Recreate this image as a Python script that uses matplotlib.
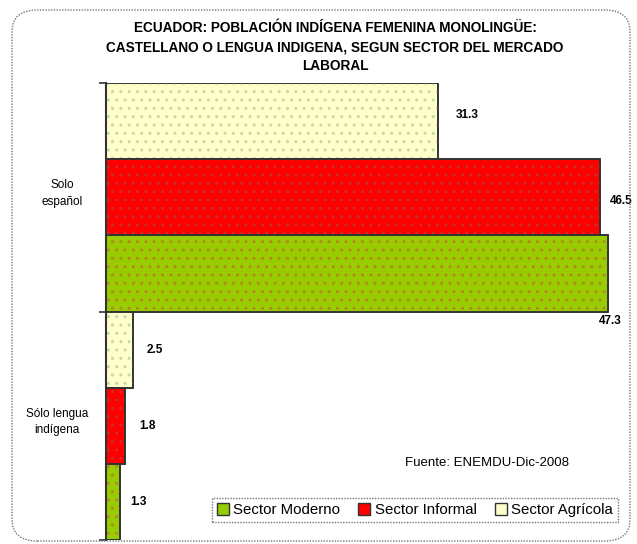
import matplotlib
matplotlib.use("Agg")
import matplotlib.pyplot as plt
from matplotlib.patches import FancyBboxPatch, Patch

plt.rcParams['font.family'] = ['Liberation Sans', 'DejaVu Sans']

categories = ["Solo\nespañol", "Sólo lengua\nindígena"]
series = ["Sector Agrícola", "Sector Informal", "Sector Moderno"]
agricola = [31.3, 2.5]
informal = [46.5, 1.8]
moderno = [47.3, 1.3]
values = {"Sector Agrícola": agricola, "Sector Informal": informal, "Sector Moderno": moderno}
colors = {"Sector Agrícola": "#FFFFCC", "Sector Informal": "#FF0000", "Sector Moderno": "#99CC00"}
dotcolors = {"Sector Agrícola": "#C8D8A0", "Sector Informal": "#C83030", "Sector Moderno": "#B08A20"}
title = "ECUADOR: POBLACIÓN INDÍGENA FEMENINA MONOLINGÜE:\nCASTELLANO O LENGUA INDIGENA, SEGUN SECTOR DEL MERCADO\nLABORAL"
source = "Fuente: ENEMDU-Dic-2008"

W, H = 637, 544
fig = plt.figure(figsize=(W / 100, H / 100), dpi=100)

# rounded border
border = FancyBboxPatch((12 / W, 3 / H), 618 / W, 531 / H,
                        boxstyle="round,pad=0,rounding_size=0.04",
                        transform=fig.transFigure, fill=False,
                        edgecolor="#777777", linewidth=1.0, linestyle=(0, (1, 1)))
fig.patches.append(border)

ax_left, ax_right, ax_top, ax_bot = 106, 630, 83, 540
ax = fig.add_axes([ax_left / W, 1 - ax_bot / H, (ax_right - ax_left) / W, (ax_bot - ax_top) / H])
ax.set_xlim(0, (ax_right - ax_left) / 10.62)
n_groups = len(categories)
n_series = len(series)
ax.set_ylim(0, n_groups * n_series)

for g in range(n_groups):
    for s, name in enumerate(series):
        y = n_groups * n_series - (g * n_series + s) - 0.5
        v = values[name][g]
        ax.barh(y, v, height=1.0, color=colors[name], edgecolor="#333333", linewidth=1.2)
        ax.barh(y, v, height=1.0, color="none", edgecolor=dotcolors[name], linewidth=0, hatch="..")
        ax.barh(y, v, height=1.0, color="none", edgecolor="#333333", linewidth=1.2)

# value labels
for g in range(n_groups):
    for s, name in enumerate(series):
        y = n_groups * n_series - (g * n_series + s) - 0.5
        v = values[name][g]
        if g == 0 and name == "Sector Moderno":
            ax.text(v - 0.9, y - 0.62, f"{v:.1f}", ha="left", va="center", fontsize=8.5, fontweight="bold", clip_on=False)
        elif g == 0:
            dx = 1.6 if name == "Sector Agrícola" else 0.9
            ax.text(v + dx, y + (0.08 if name == "Sector Agrícola" else -0.05), f"{v:.1f}", ha="left", va="center", fontsize=8.5, fontweight="bold", clip_on=False)
        else:
            ax.text(v + 1.3 if name != "Sector Moderno" else 2.3, y, f"{v:.1f}", ha="left", va="center", fontsize=8.5, fontweight="bold", clip_on=False)

for sp in ["top", "right", "bottom"]:
    ax.spines[sp].set_visible(False)
ax.spines["left"].set_color("#333333")
ax.spines["left"].set_linewidth(1.5)
ax.set_xticks([])
ax.set_yticks([0, 3, 6])
ax.set_yticklabels([])
ax.tick_params(axis="y", length=5, width=1.2, color="#333333")

# category labels
for g, cat in enumerate(categories):
    yc = n_groups * n_series - (g * n_series + 1.5) + 0.05
    ax.text(-4.1 if g == 0 else -4.6, yc, cat, ha="center", va="center", fontsize=8.5,
            linespacing=1.5, clip_on=False)

fig.text(335 / W, 1 - 47 / H, title, ha="center", va="center", fontsize=9.8,
         fontweight="bold", linespacing=1.5)
fig.text(487 / W, 1 - 463 / H, source, ha="center", va="center", fontsize=9.5)

handles = [Patch(facecolor=colors[n], edgecolor="#333333", linewidth=1.0) for n in ["Sector Moderno", "Sector Informal", "Sector Agrícola"]]
leg = fig.legend(handles, ["Sector Moderno", "Sector Informal", "Sector Agrícola"],
                 loc="center", bbox_to_anchor=(415 / W, 1 - 510 / H), ncol=3,
                 fontsize=10.8, frameon=True, fancybox=False, handlelength=0.8,
                 handleheight=0.8, handletextpad=0.3, columnspacing=1.2,
                 borderpad=0.35, borderaxespad=0)
leg.get_frame().set_edgecolor("#555555")
leg.get_frame().set_linestyle((0, (1, 1)))
leg.get_frame().set_linewidth(1.0)

fig.savefig("out.png", dpi=100)
